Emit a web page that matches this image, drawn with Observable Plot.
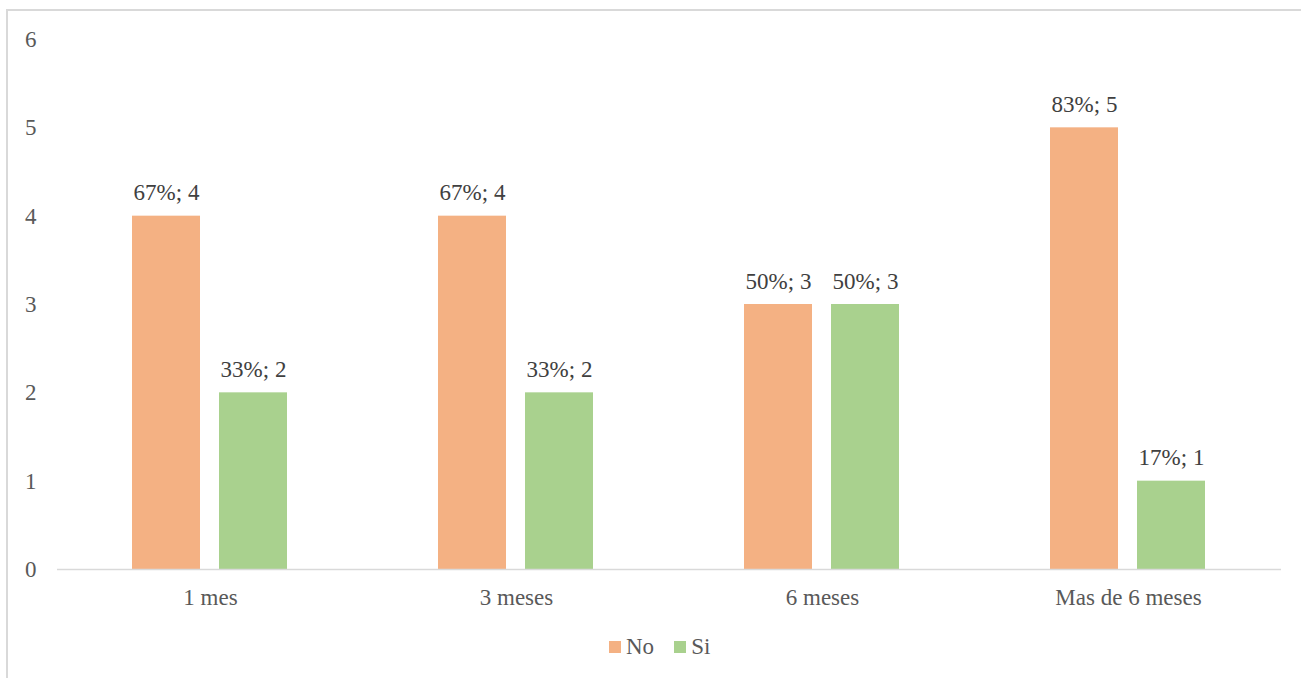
<!DOCTYPE html>
<html>
<head>
<meta charset="utf-8">
<script src="https://cdn.jsdelivr.net/npm/d3@7"></script>
<script src="https://cdn.jsdelivr.net/npm/@observablehq/plot@0.6"></script>
<style>
  html, body { margin: 0; padding: 0; background: #fff; width: 1301px; height: 678px; overflow: hidden; }
  #frame { position: absolute; left: 6px; top: 9px; width: 1400px; height: 800px; border: 2px solid #d9d9d9; box-sizing: border-box; }
  #chart { position: absolute; left: 0; top: 0; }
  #legend { position: absolute; left: 609px; top: 634px; display: flex; align-items: center; font-family: "Liberation Serif", "Times New Roman", serif; font-size: 23px; color: #595959; }
  #legend .sw { width: 12px; height: 12px; display: inline-block; margin-right: 5px; }
  #legend .item { display: flex; align-items: center; margin-right: 20px; }
</style>
</head>
<body>
<div id="frame"></div>
<div id="chart"></div>
<div id="legend"></div>
<script>
const categories = ["1 mes", "3 meses", "6 meses", "Mas de 6 meses"];
const seriesNames = ["No", "Si"];
const noValues = [4, 4, 3, 5];
const siValues = [2, 2, 3, 1];
const noPct = ["67%", "67%", "50%", "83%"];
const siPct = ["33%", "33%", "50%", "17%"];
const yTicks = [0, 1, 2, 3, 4, 5, 6];
const seriesColors = ["#F4B183", "#A9D18E"];

const rows = [];
categories.forEach((c, i) => {
  rows.push({cat: c, series: seriesNames[0], value: noValues[i], pct: noPct[i]});
  rows.push({cat: c, series: seriesNames[1], value: siValues[i], pct: siPct[i]});
});

const fontFamily = "Liberation Serif";
const fontSize = 23;
const chart = Plot.plot({
  width: 1301,
  height: 620,
  marginLeft: 57,
  marginRight: 20,
  marginTop: 39,
  marginBottom: 51,
  style: {fontFamily: fontFamily, fontSize: fontSize + "px", color: "#595959", background: "transparent"},
  fx: {domain: categories, padding: 0, label: null},
  x: {domain: seriesNames, paddingInner: 0.218, paddingOuter: 0.867, axis: null},
  y: {domain: [0, 6], label: null, axis: null},
  color: {domain: seriesNames, range: seriesColors},
  marks: [
    Plot.axisY({ticks: yTicks, tickFormat: d => String(d), tickSize: 0, tickPadding: 21, label: null, fontSize: fontSize, fontFamily: fontFamily, fontVariant: "normal", fill: "#595959"}),
    Plot.axisFx({anchor: "bottom", tickSize: 0, tickPadding: 19, label: null, fontSize: fontSize, fontFamily: fontFamily, fill: "#595959"}),
    Plot.barY(rows, {fx: "cat", x: "series", y: "value", fill: "series"}),
    Plot.ruleY([0], {stroke: "#d9d9d9", strokeWidth: 1.5}),
    Plot.text(rows, {fx: "cat", x: "series", y: "value", text: d => `${d.pct}; ${d.value}`, lineAnchor: "bottom", dy: -16, fill: "#404040", fontSize: fontSize, fontFamily: fontFamily})
  ]
});
document.getElementById("chart").appendChild(chart);

const legend = document.getElementById("legend");
seriesNames.forEach((s, i) => {
  const item = document.createElement("span");
  item.className = "item";
  const sw = document.createElement("span");
  sw.className = "sw";
  sw.style.background = seriesColors[i];
  item.appendChild(sw);
  item.appendChild(document.createTextNode(s));
  legend.appendChild(item);
});
</script>
</body>
</html>
